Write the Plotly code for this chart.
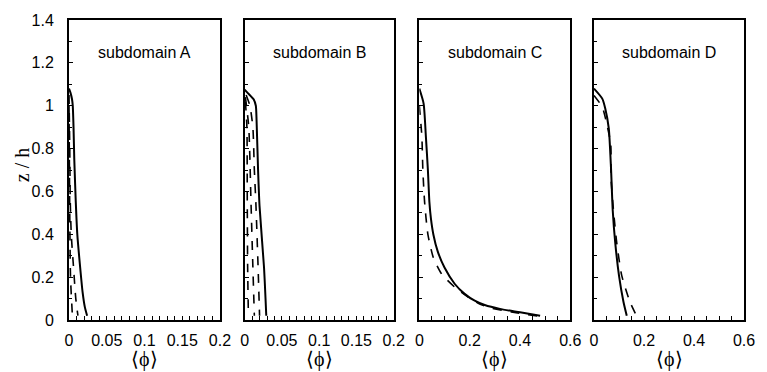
import plotly.graph_objects as go

# ---------------- data ----------------
panel_names = ["subdomain A", "subdomain B", "subdomain C", "subdomain D"]
x_ranges = [[0, 0.2], [0, 0.2], [0, 0.6], [0, 0.6]]
x_dticks = [0.05, 0.05, 0.2, 0.2]
x_minor = [0.01, 0.01, 0.05, 0.05]

# Panel A
a_solid_z = [1.08, 1.06, 1.03, 1.0, 0.9, 0.75, 0.55, 0.4, 0.245, 0.13, 0.06, 0.02]
a_solid_x = [0.0, 0.002, 0.004, 0.005, 0.006, 0.007, 0.009, 0.011, 0.0148, 0.018, 0.021, 0.024]
a_dash1_z = [1.05, 0.8, 0.55, 0.4, 0.245, 0.1, 0.02]
a_dash1_x = [0.0, 0.001, 0.0017, 0.003, 0.006, 0.009, 0.0118]
a_dash2_z = [1.0, 0.5, 0.2, 0.02]
a_dash2_x = [0.0, 0.001, 0.002, 0.0045]

# Panel B
b_solid_z = [1.075, 1.06, 1.03, 1.0, 0.93, 0.7, 0.53, 0.245, 0.1, 0.02]
b_solid_x = [0.0, 0.004, 0.012, 0.015, 0.016, 0.018, 0.020, 0.026, 0.028, 0.029]
b_dash3_z = [1.05, 1.0, 0.9, 0.7, 0.55, 0.25, 0.02]
b_dash3_x = [0.002, 0.007, 0.011, 0.013, 0.015, 0.018, 0.020]
b_dash2_z = [1.04, 0.9, 0.55, 0.25, 0.02]
b_dash2_x = [0.001, 0.0055, 0.0085, 0.011, 0.013]
b_dash1_z = [1.02, 0.9, 0.55, 0.25, 0.02]
b_dash1_x = [0.001, 0.003, 0.0035, 0.004, 0.005]

# Panel C
c_solid_z = [1.08, 1.01, 0.857, 0.70, 0.55, 0.474, 0.398, 0.32, 0.245, 0.168, 0.122, 0.09, 0.07, 0.052, 0.036, 0.02]
c_solid_x = [0.0, 0.017, 0.026, 0.034, 0.040, 0.046, 0.056, 0.073, 0.10, 0.141, 0.18, 0.22, 0.26, 0.32, 0.40, 0.48]
c_dash_z = [1.0, 0.857, 0.70, 0.55, 0.40, 0.29, 0.214, 0.153, 0.11, 0.074, 0.056, 0.043, 0.033, 0.016]
c_dash_x = [0.0, 0.010, 0.014, 0.021, 0.034, 0.056, 0.089, 0.141, 0.19, 0.24, 0.285, 0.34, 0.39, 0.48]

# Panel D
d_solid_z = [1.08, 1.033, 0.987, 0.895, 0.71, 0.51, 0.36, 0.207, 0.084, 0.02]
d_solid_x = [0.0, 0.033, 0.045, 0.059, 0.068, 0.075, 0.085, 0.10, 0.118, 0.131]
d_dash_z = [1.048, 0.994, 0.91, 0.82, 0.666, 0.51, 0.36, 0.207, 0.084, 0.02]
d_dash_x = [0.0, 0.033, 0.052, 0.067, 0.068, 0.078, 0.091, 0.111, 0.144, 0.17]

panels = [
    [(a_solid_x, a_solid_z, "solid"), (a_dash1_x, a_dash1_z, "dash"), (a_dash2_x, a_dash2_z, "dash")],
    [(b_solid_x, b_solid_z, "solid"), (b_dash3_x, b_dash3_z, "dash"), (b_dash2_x, b_dash2_z, "dash"), (b_dash1_x, b_dash1_z, "dash")],
    [(c_solid_x, c_solid_z, "solid"), (c_dash_x, c_dash_z, "dash")],
    [(d_solid_x, d_solid_z, "solid"), (d_dash_x, d_dash_z, "dash")],
]

# ---------------- layout ----------------
W, H = 767, 372
L, R, T, B = 69, 14, 15, 52
pw = W - L - R
px_edges = [(69, 222), (247, 398), (424, 577), (601, 753)]
domains = [[(a - L) / pw, (b - L) / pw] for a, b in px_edges]

fig = go.Figure()
sans = "Liberation Sans, Arial, sans-serif"
serif = "Liberation Serif, Times New Roman, serif"

for i, curves in enumerate(panels):
    xa = "x" if i == 0 else f"x{i+1}"
    ya = "y" if i == 0 else f"y{i+1}"
    for xs, zs, dash in curves:
        fig.add_trace(go.Scatter(
            x=xs, y=zs, mode="lines", xaxis=xa, yaxis=ya, showlegend=False,
            line=dict(color="black", width=2 if dash == "solid" else 1.6, dash=dash,
                      shape="spline", smoothing=0.6),
            hoverinfo="skip"))

    axsuffix = "" if i == 0 else str(i + 1)
    fig.layout["xaxis" + axsuffix] = dict(
        domain=domains[i], range=x_ranges[i], anchor=ya,
        dtick=x_dticks[i], tick0=0, ticks="inside", ticklen=4, tickwidth=1.2,
        tickcolor="black", showline=True, linecolor="black", linewidth=2, mirror=True,
        showgrid=False, zeroline=False,
        minor=dict(dtick=x_minor[i], ticks="inside", ticklen=4, tickwidth=1.2, tickcolor="black", showgrid=False),
        tickfont=dict(family=sans, size=16, color="black"),
        ticklabelstandoff=5,
    )
    fig.layout["yaxis" + axsuffix] = dict(
        domain=[0, 1], range=[0, 1.4], anchor=xa,
        dtick=0.2, tick0=0, ticks="inside", ticklen=4, tickwidth=1.2,
        tickcolor="black", showline=True, linecolor="black", linewidth=2, mirror=True,
        showgrid=False, zeroline=False, showticklabels=(i == 0),
        minor=dict(dtick=0.1, ticks="inside", ticklen=3, tickwidth=1.2, tickcolor="black", showgrid=False),
        tickfont=dict(family=sans, size=16, color="black"),
        ticklabelstandoff=10,
    )
    xc = (domains[i][0] + domains[i][1]) / 2
    fig.add_annotation(text=panel_names[i], xref="paper", yref=ya, x=xc, y=1.25,
                       showarrow=False, font=dict(family=sans, size=16, color="black"),
                       xanchor="center", yanchor="middle")
    fig.add_annotation(text="⟨ϕ⟩", xref="paper", yref="paper", x=xc, y=(320 - 360) / 305,
                       showarrow=False, font=dict(family=serif, size=20, color="black"),
                       xanchor="center", yanchor="middle")

fig.add_annotation(text="z / h", xref="paper", yref="paper", x=(21 - L) / pw, y=(320 - 163) / 305,
                   showarrow=False, textangle=-90, font=dict(family=serif, size=20, color="black"),
                   xanchor="center", yanchor="middle")

fig.update_layout(width=W, height=H, margin=dict(l=L, r=R, t=T, b=B),
                  paper_bgcolor="white", plot_bgcolor="white")

fig.write_html("out.html")
